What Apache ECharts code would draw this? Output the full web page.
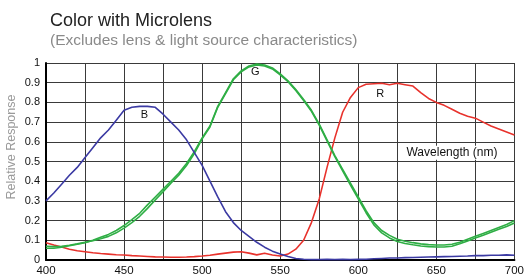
<!DOCTYPE html>
<html><head><meta charset="utf-8">
<script src="https://cdn.jsdelivr.net/npm/echarts@6/dist/echarts.min.js"></script>
<style>html,body{margin:0;padding:0;background:#fff}#c{width:527px;height:280px}</style>
</head><body><div id="c"></div>
<script>
const wavelengths = [];
for (let w = 400; w <= 700; w += 5) wavelengths.push(w);
const xTicks = [400,450,500,550,600,650,700];
const blue = [0.30,0.34,0.385,0.43,0.47,0.52,0.57,0.62,0.66,0.71,0.76,0.775,0.78,0.78,0.775,0.74,0.70,0.66,0.61,0.545,0.48,0.40,0.32,0.245,0.19,0.15,0.12,0.09,0.065,0.045,0.03,0.018,0.008,0.004,0.002,0.002,0.003,0.002,0.003,0.002,0.003,0.004,0.006,0.008,0.01,0.01,0.012,0.013,0.014,0.015,0.016,0.017,0.018,0.019,0.02,0.022,0.022,0.024,0.024,0.026,0.024];
const greenA = [0.06,0.06,0.065,0.072,0.08,0.088,0.10,0.115,0.13,0.15,0.175,0.205,0.237,0.28,0.32,0.36,0.40,0.44,0.49,0.55,0.62,0.68,0.78,0.85,0.92,0.96,0.985,0.995,0.99,0.975,0.945,0.91,0.865,0.815,0.76,0.69,0.61,0.53,0.46,0.39,0.32,0.25,0.19,0.15,0.125,0.105,0.095,0.088,0.082,0.078,0.076,0.076,0.08,0.09,0.105,0.12,0.135,0.15,0.165,0.18,0.20];
const greenB = [0.07,0.068,0.07,0.075,0.082,0.09,0.098,0.108,0.12,0.138,0.162,0.19,0.222,0.262,0.305,0.347,0.39,0.43,0.48,0.54,0.615,0.675,0.775,0.845,0.915,0.955,0.98,0.99,0.985,0.97,0.94,0.905,0.86,0.81,0.755,0.685,0.605,0.525,0.452,0.38,0.31,0.24,0.178,0.138,0.112,0.094,0.084,0.077,0.071,0.068,0.066,0.066,0.07,0.082,0.097,0.112,0.126,0.141,0.156,0.17,0.188];
const red = [0.088,0.076,0.066,0.055,0.047,0.042,0.037,0.033,0.03,0.027,0.025,0.022,0.02,0.018,0.016,0.015,0.014,0.014,0.015,0.017,0.02,0.024,0.03,0.035,0.04,0.042,0.035,0.026,0.034,0.025,0.02,0.03,0.055,0.10,0.19,0.31,0.47,0.62,0.75,0.825,0.875,0.892,0.895,0.897,0.89,0.897,0.89,0.883,0.85,0.82,0.80,0.785,0.765,0.745,0.73,0.72,0.70,0.68,0.665,0.65,0.635];
const curveLabels = [
  {text:'B', x:463, y:0.735},
  {text:'G', x:534, y:0.955},
  {text:'R', x:614, y:0.845}
];
const axisNote = {text:'Wavelength (nm)', x:660, y:0.545};
const yName = 'Relative Response';

const pairs = arr => arr.map((v,i)=>[wavelengths[i], v]);
const chart = echarts.init(document.getElementById('c'), null, {renderer:'canvas'});
const lineStyle = (c,w)=>({color:c,width:w});
chart.setOption({
  animation:false,
  backgroundColor:'#fff',
  title:{
    text:'Color with Microlens',
    subtext:'(Excludes lens & light source characteristics)',
    left:45, top:7, itemGap:3,
    textStyle:{fontFamily:'Liberation Sans, Arial',fontSize:18,fontWeight:'normal',color:'#222'},
    subtextStyle:{fontFamily:'Liberation Sans, Arial',fontSize:15.5,color:'#8a8a8a'}
  },
  grid:{left:46,right:12,top:63,bottom:20,containLabel:false},
  xAxis:{
    type:'value',min:400,max:700,interval:25,
    axisLine:{show:true,lineStyle:{color:'#000',width:2}},
    axisTick:{show:false},
    splitLine:{show:true,lineStyle:{color:'#3a3a3a',width:1}},
    axisLabel:{fontFamily:'Liberation Sans, Arial',fontSize:11.5,color:'#111',margin:5,
      formatter:v=>xTicks.includes(v)?String(v):''}
  },
  yAxis:{
    type:'value',min:0,max:1,interval:0.1,
    axisLine:{show:true,lineStyle:{color:'#000',width:2}},
    axisTick:{show:false},
    splitLine:{show:true,lineStyle:{color:'#3a3a3a',width:1}},
    axisLabel:{fontFamily:'Liberation Sans, Arial',fontSize:11,color:'#111',margin:6,
      formatter:v=>String(Math.round(v*10)/10)}
  },
  series:[
    {type:'line',data:pairs(red),showSymbol:false,lineStyle:lineStyle('#e8322c',1.6),z:3},
    {type:'line',data:pairs(greenB),showSymbol:false,lineStyle:lineStyle('#2fae45',1.6),z:4},
    {type:'line',data:pairs(greenA),showSymbol:false,lineStyle:lineStyle('#2fae45',1.6),z:4},
    {type:'line',data:pairs(blue),showSymbol:false,lineStyle:lineStyle('#3b3aa3',1.6),z:5}
  ]
});
const gfx = curveLabels.concat([axisNote]).map(l=>{
  const p = chart.convertToPixel({gridIndex:0},[l.x,l.y]);
  return {type:'text',x:p[0],y:p[1],z:10,style:{text:l.text,fill:'#111',
    font:(l.text.length>1?'12px':'11px')+' "Liberation Sans", Arial',align:'center',verticalAlign:'middle',
    backgroundColor:l.text.length>1?'#fff':null,padding:l.text.length>1?[1,2]:0}};
});
gfx.push({type:'text',x:12,y:147,rotation:Math.PI/2,z:10,style:{text:yName,fill:'#9a9a9a',
  font:'12.5px "Liberation Sans", Arial',align:'center',verticalAlign:'middle'}});
chart.setOption({graphic:gfx});
</script></body></html>
